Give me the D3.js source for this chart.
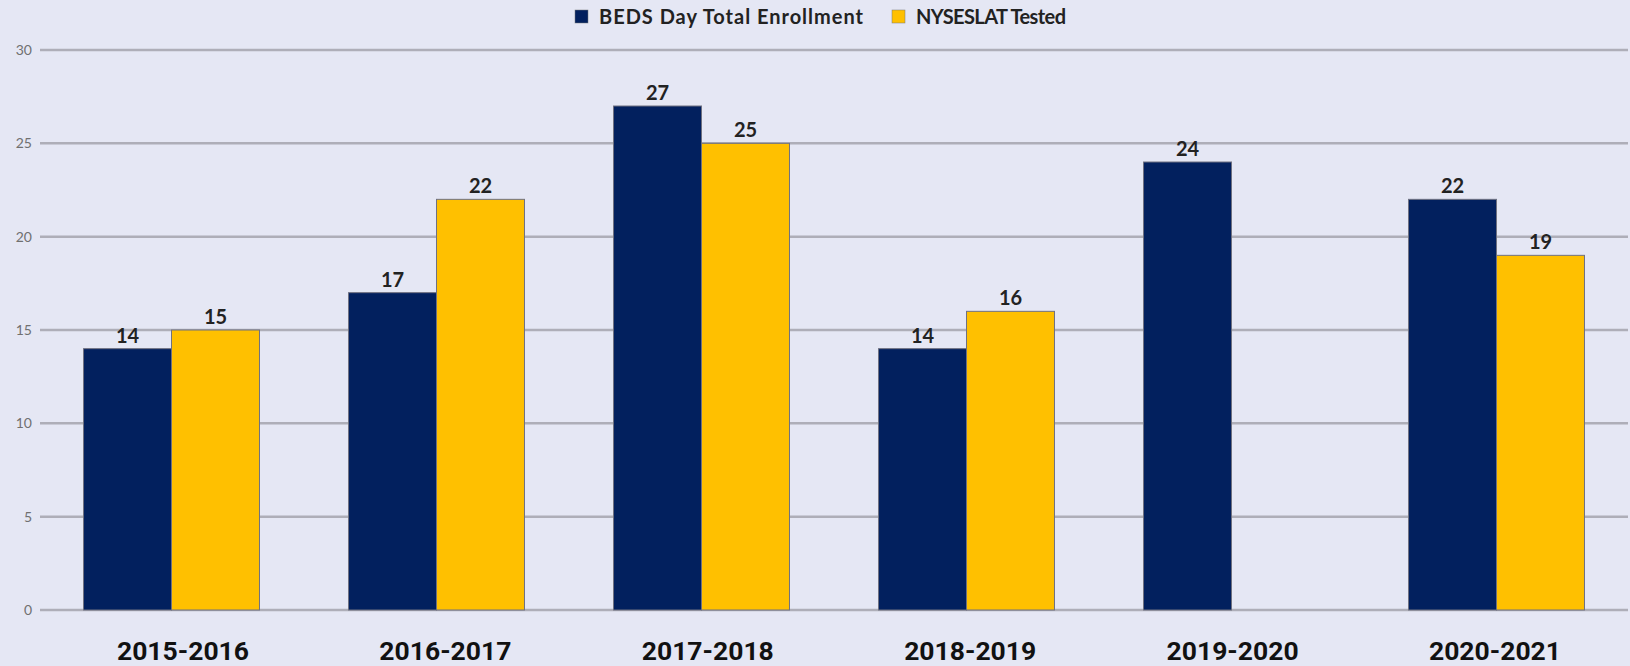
<!DOCTYPE html>
<html>
<head>
<meta charset="utf-8">
<script src="https://cdn.jsdelivr.net/npm/d3@7"></script>
<style>
  html, body { margin: 0; padding: 0; background: #e5e7f4; }
  svg { display: block; }
</style>
</head>
<body>
<svg id="chart" width="1630" height="666"></svg>
<script>
const years = ["2015-2016", "2016-2017", "2017-2018", "2018-2019", "2019-2020", "2020-2021"];
const seriesNames = ["BEDS Day Total Enrollment", "NYSESLAT Tested"];
const beds = [14, 17, 27, 14, 24, 22];
const nyseslat = [15, 22, 25, 16, null, 19];
const yTicks = [0, 5, 10, 15, 20, 25, 30];

const colors = ["#02205e", "#ffc000"];

const width = 1630;
const height = 666;

const svg = d3.select("#chart");

svg.append("rect")
    .attr("width", width)
    .attr("height", height)
    .attr("fill", "#e5e7f4");

const y = d3.scaleLinear().domain([0, 30]).range([610, 50]);

const x = d3.scaleBand()
    .domain(years)
    .range([39, 1629])
    .paddingInner(0.336)
    .paddingOuter(0.168);

const xSub = d3.scaleBand()
    .domain(seriesNames)
    .range([0, x.bandwidth()]);

// x labels sit a little off the groups in the original
const xLabel = d3.scalePoint()
    .domain(years)
    .range([183, 1495]);

// gridlines
svg.append("g")
    .selectAll("line")
    .data(yTicks)
    .enter()
    .append("line")
    .attr("x1", 40)
    .attr("x2", 1628)
    .attr("y1", d => y(d))
    .attr("y2", d => y(d))
    .attr("stroke", "#aeaeb8")
    .attr("stroke-width", 2.5);

// y tick labels
svg.append("g")
    .selectAll("text")
    .data(yTicks)
    .enter()
    .append("text")
    .attr("x", 32)
    .attr("y", d => y(d) + 5)
    .attr("text-anchor", "end")
    .attr("font-family", "Lato, sans-serif")
    .attr("font-size", 14)
    .attr("fill", "#707070")
    .text(d => d);

const rows = years.map((yr, i) => ({
    year: yr,
    values: [
        { name: seriesNames[0], v: beds[i], c: colors[0] },
        { name: seriesNames[1], v: nyseslat[i], c: colors[1] }
    ].filter(d => d.v != null)
}));

const groups = svg.append("g")
    .selectAll("g.group")
    .data(rows)
    .enter()
    .append("g")
    .attr("class", "group")
    .attr("transform", d => `translate(${x(d.year)},0)`);

groups.selectAll("rect")
    .data(d => d.values)
    .enter()
    .append("rect")
    .attr("x", d => xSub(d.name))
    .attr("width", xSub.bandwidth())
    .attr("y", d => y(d.v))
    .attr("height", d => y(0) - y(d.v))
    .attr("fill", d => d.c)
    .attr("stroke", "#6f7180")
    .attr("stroke-width", 1);

groups.selectAll("text")
    .data(d => d.values)
    .enter()
    .append("text")
    .attr("x", d => xSub(d.name) + xSub.bandwidth() / 2)
    .attr("y", d => y(d.v) - 6)
    .attr("text-anchor", "middle")
    .attr("font-family", "Lato, sans-serif")
    .attr("font-weight", "bold")
    .attr("font-size", 20)
    .attr("fill", "#222")
    .text(d => d.v);

// x axis labels
svg.append("g")
    .selectAll("text")
    .data(years)
    .enter()
    .append("text")
    .attr("x", d => xLabel(d))
    .attr("y", 660)
    .attr("text-anchor", "middle")
    .attr("font-family", "Roboto, sans-serif")
    .attr("font-weight", "bold")
    .attr("font-size", 26.5)
    .attr("fill", "#111")
    .text(d => d);

// legend
const legendX = [575, 892];
const legendW = [264, 150];
const legend = svg.append("g")
    .selectAll("g")
    .data(seriesNames)
    .enter()
    .append("g")
    .attr("transform", (d, i) => `translate(${legendX[i]},10)`);

legend.append("rect")
    .attr("width", 13)
    .attr("height", 13)
    .attr("fill", (d, i) => colors[i])
    .attr("stroke", "#777")
    .attr("stroke-width", 0.5);

legend.append("text")
    .attr("x", 24)
    .attr("y", 14)
    .attr("font-family", "Lato, sans-serif")
    .attr("font-weight", "bold")
    .attr("font-size", 20)
    .attr("fill", "#222")
    .attr("textLength", (d, i) => legendW[i])
    .attr("lengthAdjust", "spacing")
    .text(d => d);
</script>
</body>
</html>
